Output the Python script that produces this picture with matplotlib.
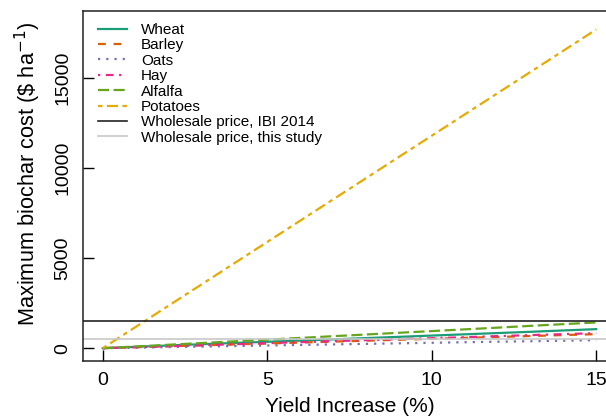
import numpy as np
import matplotlib
matplotlib.use("Agg")
import matplotlib.pyplot as plt

plt.rcParams['font.family'] = ['Liberation Sans', 'DejaVu Sans']

# yield increase (%)
yield_inc = [0, 1, 2, 3, 4, 5, 6, 7, 8, 9, 10, 11, 12, 13, 14, 15]

# maximum biochar cost ($/ha)
wheat = [0, 75, 150, 220, 290, 355, 420, 490, 560, 630, 700, 770, 840, 910, 985, 1057]
barley = [0, 52, 104, 156, 208, 260, 312, 364, 416, 468, 520, 572, 624, 676, 728, 779]
oats = [0, 30, 60, 90, 120, 150, 180, 210, 240, 270, 300, 330, 360, 385, 415, 445]
hay = [0, 55, 110, 165, 220, 280, 335, 390, 445, 500, 555, 610, 670, 725, 780, 834]
alfalfa = [0, 95, 190, 285, 380, 475, 570, 665, 760, 855, 950, 1045, 1140, 1240, 1335, 1430]
potatoes = [0, 1180, 2360, 3540, 4720, 5900, 7080, 8260, 9440, 10620, 11800, 12980,
            14160, 15340, 16520, 17700]

price_ibi = 1500
price_study = 500

fig = plt.figure(figsize=(6.06, 4.16), dpi=100)
ax = fig.add_axes([82.7/606, 55.5/416, 533.6/606, 349.5/416])

lw = 1.6
ax.plot(yield_inc, wheat, color='#1B9E77', lw=lw, label='Wheat')
ax.plot(yield_inc, barley, color='#D95F02', lw=lw, ls=(0, (3.5, 3.5)), label='Barley')
ax.plot(yield_inc, oats, color='#7570B3', lw=lw, ls=(0, (1, 2.7)), label='Oats')
ax.plot(yield_inc, hay, color='#E7298A', lw=lw, ls=(0, (1, 2.5, 3.5, 2.5)), label='Hay')
ax.plot(yield_inc, alfalfa, color='#66A61E', lw=lw, ls=(0, (5, 2)), label='Alfalfa')
ax.plot(yield_inc, potatoes, color='#E6AB02', lw=lw, ls=(0, (2, 2, 5, 2)), label='Potatoes')
ax.axhline(price_ibi, color='#222222', lw=1.2, label='Wholesale price, IBI 2014')
ax.axhline(price_study, color='#C8C8C8', lw=1.2, label='Wholesale price, this study')

ax.set_xlim(-0.61, 15.61)
ax.set_ylim(-684, 18726)
ax.set_xticks([0, 5, 10, 15])
ax.set_yticks([0, 5000, 10000, 15000])
ax.tick_params(direction='in', length=8, width=1, labelsize=14, pad=8)
for lab in ax.get_yticklabels():
    lab.set_rotation(90)
    lab.set_va('center')
for sp in ax.spines.values():
    sp.set_linewidth(1.1)
    sp.set_color('#222222')

ax.set_xlabel('Yield Increase (%)', fontsize=15, labelpad=6)
ax.set_ylabel('Maximum biochar cost (\\$ ha$^{-1}$)', fontsize=15.7)
ax.yaxis.set_label_coords(-0.075, 0.534)

ax.legend(loc='upper left', bbox_to_anchor=(0.0094, 0.996), frameon=False, fontsize=11,
          handlelength=1.9, handletextpad=0.9, labelspacing=0.09, borderaxespad=0.3)

fig.savefig('out.png', dpi=100)
